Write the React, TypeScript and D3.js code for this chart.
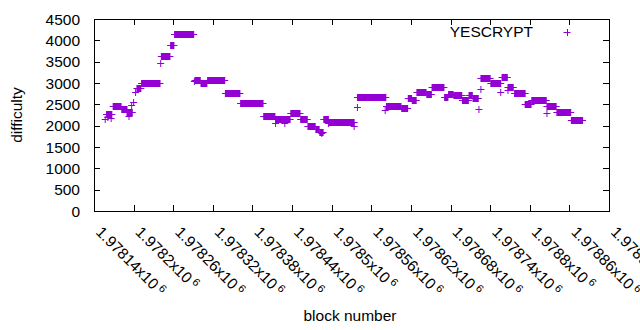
import React from 'react';
import * as d3 from 'd3';

// difficulty runs: consecutive blocks sharing one difficulty value
const runStart = [
  1978157, 1978161, 1978159, 1978166, 1978169, 1978182, 1978190, 1978193, 1978197, 1978200,
  1978203, 1978205, 1978212, 1978241, 1978242, 1978256, 1978262, 1978292, 1978293, 1978302,
  1978312, 1978339, 1978362, 1978397, 1978415, 1978415, 1978429, 1978438, 1978453, 1978464,
  1978476, 1978482, 1978485, 1978488, 1978495, 1978496, 1978534, 1978539, 1978539, 1978581,
  1978583, 1978606, 1978616, 1978622, 1978629, 1978644, 1978652, 1978671, 1978677, 1978685,
  1978698, 1978708, 1978714, 1978723, 1978726, 1978726, 1978741, 1978756, 1978758, 1978767,
  1978767, 1978777, 1978793, 1978803, 1978826, 1978826, 1978841, 1978863,
];
const runEnd = [
  1978157, 1978161, 1978167, 1978166, 1978181, 1978190, 1978198, 1978193, 1978197, 1978200,
  1978203, 1978211, 1978240, 1978241, 1978255, 1978261, 1978291, 1978292, 1978301, 1978311,
  1978338, 1978361, 1978396, 1978414, 1978437, 1978415, 1978429, 1978452, 1978463, 1978475,
  1978481, 1978487, 1978485, 1978495, 1978495, 1978534, 1978534, 1978539, 1978582, 1978581,
  1978605, 1978615, 1978621, 1978628, 1978643, 1978651, 1978670, 1978676, 1978684, 1978697,
  1978707, 1978713, 1978722, 1978723, 1978726, 1978740, 1978756, 1978756, 1978766, 1978767,
  1978775, 1978793, 1978802, 1978825, 1978840, 1978826, 1978862, 1978880,
];
const difficulty = [
  2160, 2210, 2275, 2180, 2450, 2380, 2320, 2230, 2480, 2560,
  2800, 2890, 3000, 3480, 3630, 3890, 4160, 3050, 3075, 2990,
  3065, 2760, 2530, 2235, 2165, 2070, 2055, 2295, 2150, 1995,
  1930, 1850, 1830, 2150, 2055, 2095, 1990, 2430, 2675, 2370,
  2450, 2410, 2640, 2590, 2780, 2735, 2915, 2665, 2735, 2710,
  2610, 2725, 2640, 2385, 2850, 3110, 2990, 2785, 3140, 2840,
  2915, 2760, 2510, 2595, 2455, 2290, 2330, 2130,
];

const xTicks = [
  1978140, 1978200, 1978260, 1978320, 1978380, 1978440, 1978500,
  1978560, 1978620, 1978680, 1978740, 1978800, 1978860, 1978920,
];
const yTicks = [0, 500, 1000, 1500, 2000, 2500, 3000, 3500, 4000, 4500];

const W = 640;
const H = 330;
const margin = { left: 94, right: 31, top: 19, bottom: 119 };
const color = '#9400d3';
const font = '"Liberation Sans", Arial, sans-serif';
const arm = 3.5;

export default function App() {
  const x = d3.scaleLinear()
    .domain([xTicks[0], xTicks[xTicks.length - 1]])
    .range([margin.left, W - margin.right]);
  const y = d3.scaleLinear()
    .domain([0, 4500])
    .range([H - margin.bottom, margin.top]);

  const x0 = margin.left, x1 = W - margin.right;
  const y0 = H - margin.bottom, y1 = margin.top;

  const runs = difficulty.map((d, i) => ({ s: runStart[i], e: runEnd[i], d }));

  return (
    <svg width={W} height={H} style={{ position: 'fixed', left: 0, top: 0, background: '#fff' }}
      fontFamily={font}>
      <rect x={0} y={0} width={W} height={H} fill="#fff" />

      {/* ticks, mirrored on all four sides */}
      {yTicks.map(t => (
        <g key={'y' + t}>
          <line x1={x0} x2={x0 + 6} y1={Math.round(y(t)) + 0.5} y2={Math.round(y(t)) + 0.5} stroke="#000" />
          <line x1={x1} x2={x1 - 6} y1={Math.round(y(t)) + 0.5} y2={Math.round(y(t)) + 0.5} stroke="#000" />
          <text x={80} y={y(t)} dy="0.36em" textAnchor="end" fontSize={15.5} fill="#000">{t}</text>
        </g>
      ))}
      {xTicks.map(t => (
        <g key={'x' + t}>
          <line x1={Math.round(x(t)) + 0.5} x2={Math.round(x(t)) + 0.5} y1={y0} y2={y0 - 6} stroke="#000" />
          <line x1={Math.round(x(t)) + 0.5} x2={Math.round(x(t)) + 0.5} y1={y1} y2={y1 + 6} stroke="#000" />
          <text transform={`translate(${x(t) + 1},${y0 + 22}) rotate(45)`} fontSize={15.5} fill="#000">
            {+(t / 1e6).toFixed(5) + 'x10'}
            <tspan dx={3} dy={-5} fontSize={11}>6</tspan>
          </text>
        </g>
      ))}

      <rect x={x0 + 0.5} y={y1 + 0.5} width={x1 - x0} height={y0 - y1} fill="none" stroke="#000" />

      {/* data: each run of + markers */}
      {runs.map((r, i) => {
        const cy = Math.round(y(r.d)) + 0.5;
        const xs = x(r.s), xe = x(r.e);
        return (
          <g key={i}>
            <rect x={xs - 0.5} y={cy - arm} width={xe - xs + 1} height={arm * 2} fill={color} />
            <line x1={xs - arm} x2={xe + arm} y1={cy} y2={cy} stroke={color} strokeWidth={1} />
          </g>
        );
      })}

      {/* legend */}
      <text x={533} y={37} textAnchor="end" fontSize={15.5} fill="#000">YESCRYPT</text>
      <line x1={567 - arm} x2={567 + arm} y1={32.5} y2={32.5} stroke={color} />
      <line x1={567.5} x2={567.5} y1={32.5 - arm} y2={32.5 + arm} stroke={color} />

      {/* axis titles */}
      <text transform={`translate(22,115) rotate(-90)`} textAnchor="middle" fontSize={15.5} fill="#000">difficulty</text>
      <text x={350} y={321} textAnchor="middle" fontSize={15.5} fill="#000">block number</text>
    </svg>
  );
}
